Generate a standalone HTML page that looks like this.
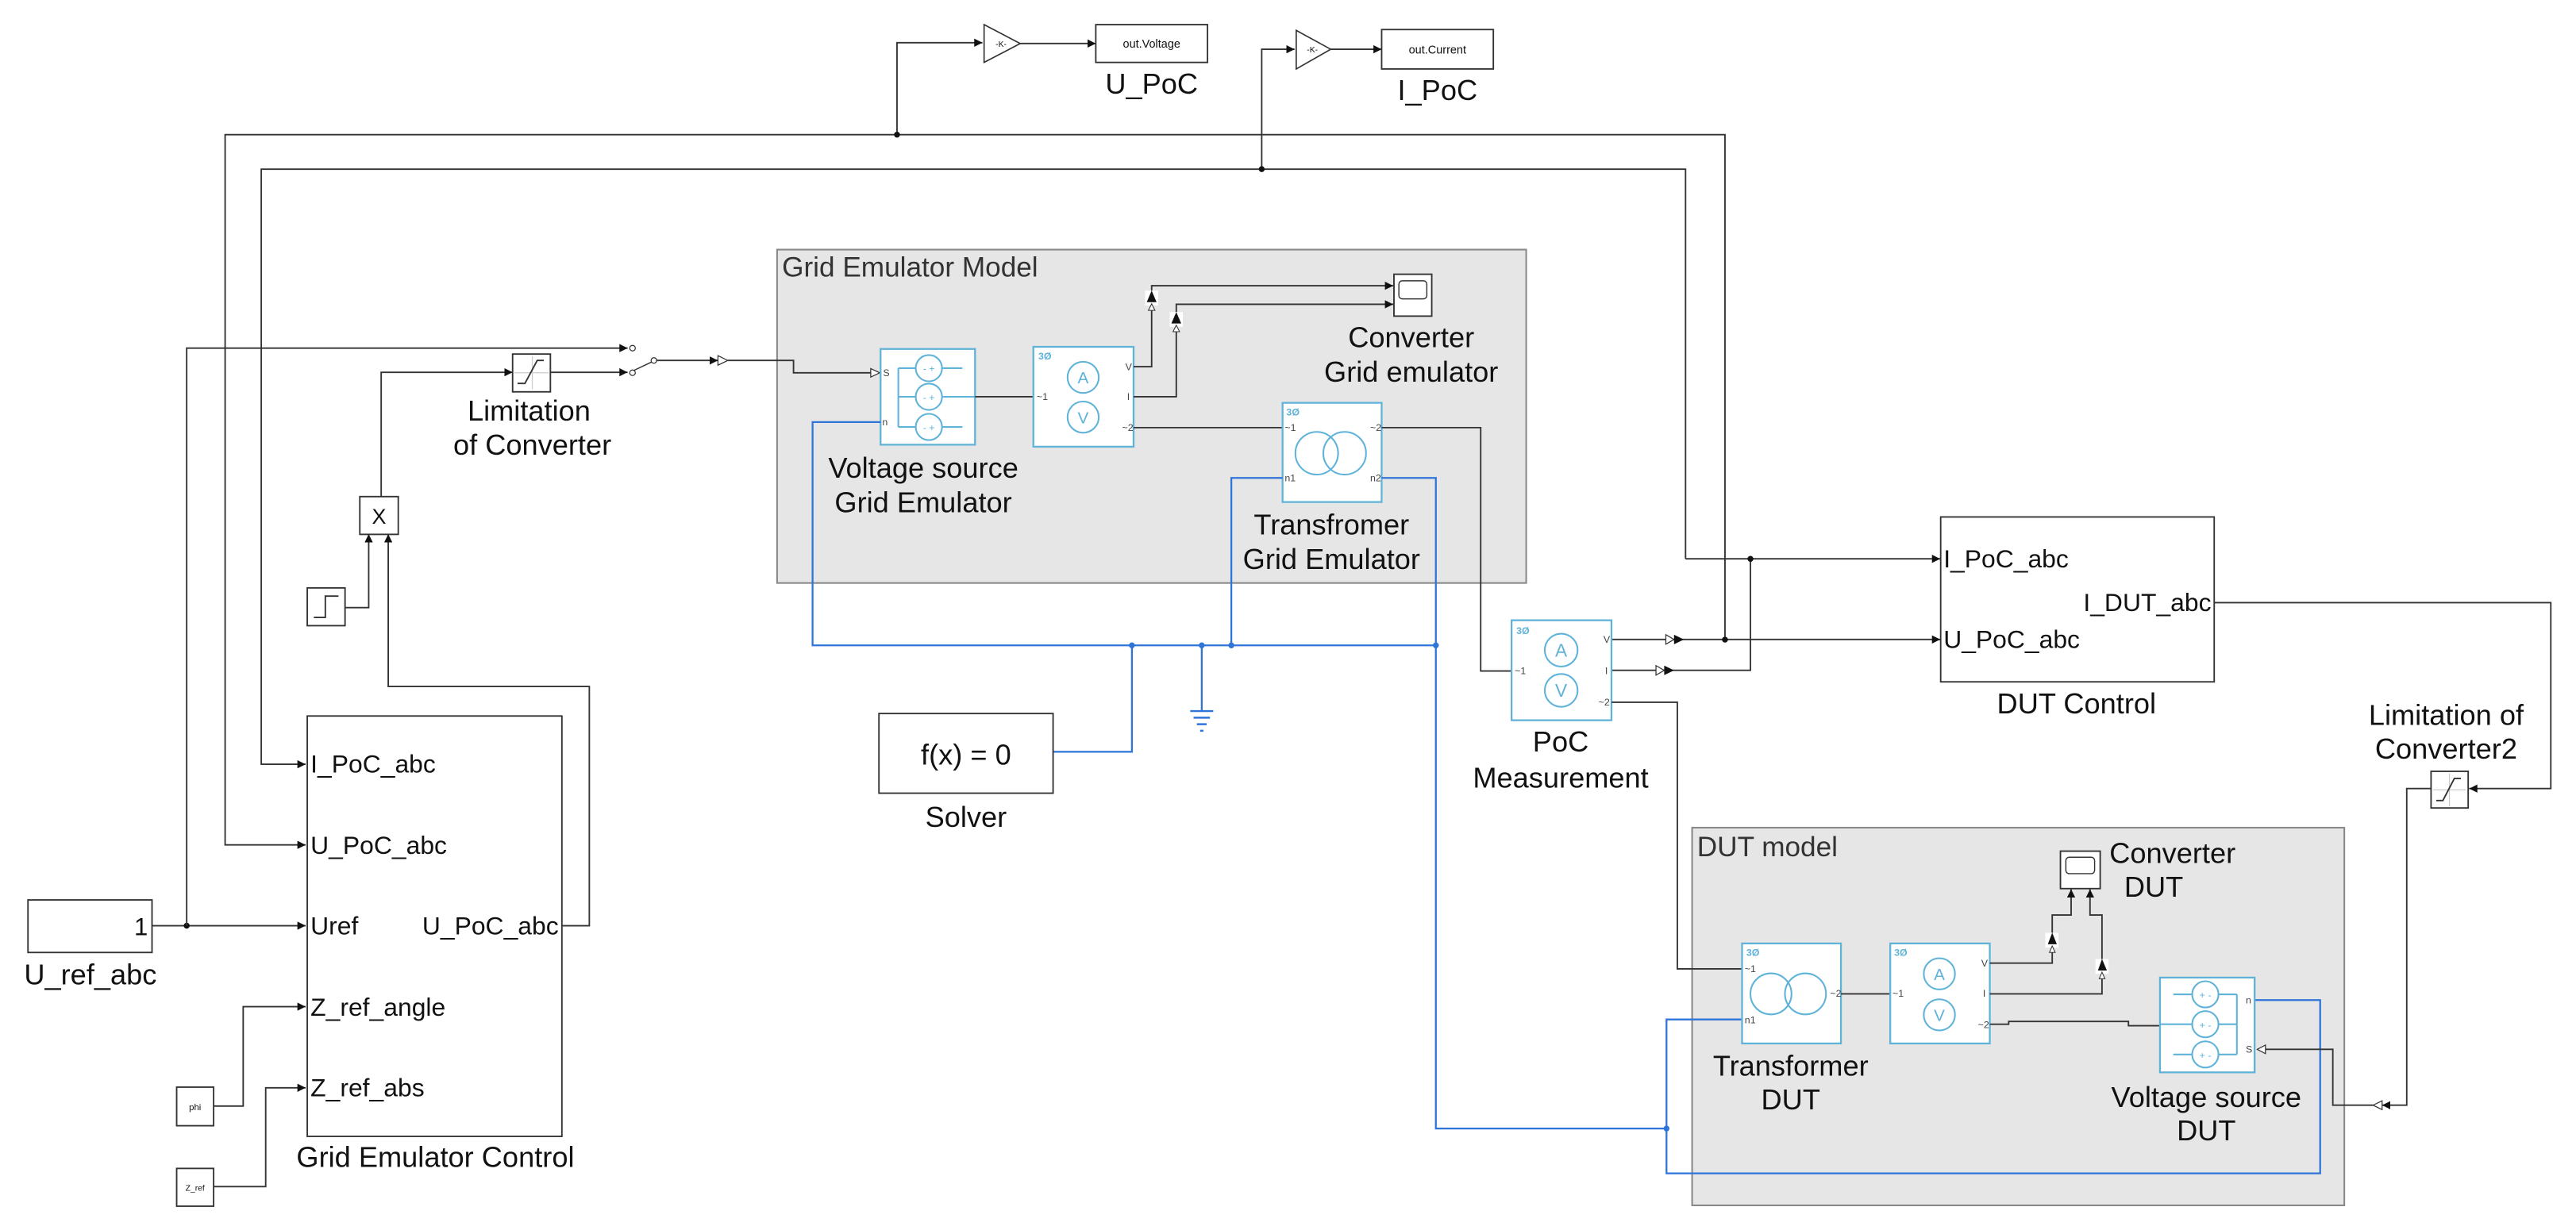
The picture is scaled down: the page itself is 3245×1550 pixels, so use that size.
<!DOCTYPE html>
<html><head><meta charset="utf-8"><style>
html,body{margin:0;padding:0;background:#fff;}
svg{display:block;}
text{font-family:"Liberation Sans",Arial,sans-serif;fill:#111;}
.l{fill:none;stroke:#333;stroke-width:0.9;}
.b{fill:none;stroke:#2f74d8;stroke-width:1.1;}
.blk{fill:#fff;stroke:#333;stroke-width:0.9;}
.sb{fill:#fff;stroke:#5fb3d9;stroke-width:1.1;}
.sc{fill:none;stroke:#5fb3d9;stroke-width:1;}
.lab{font-size:17.5px;text-anchor:middle;}
.pt{font-size:15.4px;}
.tiny{font-size:6px;fill:#444;}
.bl{font-size:6px;fill:#5fb3d9;font-weight:bold;}
</style></head><body>
<svg width="3245" height="1550" viewBox="0 0 1568 749" xmlns="http://www.w3.org/2000/svg">
<defs>
<marker id="a" viewBox="0 0 10 10" refX="10" refY="5" markerWidth="5" markerHeight="5" markerUnits="userSpaceOnUse" orient="auto"><path d="M0,0 L10,5 L0,10 z" fill="#111"/></marker>
</defs>
<rect x="0" y="0" width="1568" height="749" fill="#fff"/>

<rect x="473" y="152" width="456" height="203" fill="#e6e6e6" stroke="#888" stroke-width="1"/>
<text x="476" y="168.5" style="font-size:17px;fill:#333">Grid Emulator Model</text>
<rect x="1030" y="504" width="397" height="230" fill="#e6e6e6" stroke="#888" stroke-width="1"/>
<text x="1033" y="521.5" style="font-size:17px;fill:#333">DUT model</text>

<path class="l" d="M546,82 V26 H598" marker-end="url(#a)"/>
<polygon points="599,15 621,26.5 599,38" fill="#fff" stroke="#333" stroke-width="0.8"/>
<text x="606" y="28.5" style="font-size:5px">-K-</text>
<path class="l" d="M621,26.5 H667" marker-end="url(#a)"/>
<rect class="blk" x="667" y="15" width="68" height="23"/>
<text x="701" y="29" style="font-size:7px;text-anchor:middle">out.Voltage</text>
<text class="lab" x="701" y="57">U_PoC</text>

<path class="l" d="M768,103 V30 H788" marker-end="url(#a)"/>
<polygon points="789,18.5 810,30 789,42" fill="#fff" stroke="#333" stroke-width="0.8"/>
<text x="795.5" y="32" style="font-size:5px">-K-</text>
<path class="l" d="M810,30 H841" marker-end="url(#a)"/>
<rect class="blk" x="841" y="18" width="68" height="24"/>
<text x="875" y="32.5" style="font-size:7px;text-anchor:middle">out.Current</text>
<text class="lab" x="875" y="61">I_PoC</text>

<path class="l" d="M1050,389.5 V82 H137 V514.5 H186" marker-end="url(#a)"/>
<path class="l" d="M1026,340.3 V103 H159 V465.4 H186" marker-end="url(#a)"/>
<circle cx="546" cy="82" r="1.8" fill="#111"/>
<circle cx="768" cy="103" r="1.8" fill="#111"/>
<path class="l" d="M1026,340.3 H1181" marker-end="url(#a)"/>
<path class="l" d="M981,408.2 H1065.5 V340.3"/>
<circle cx="1065.5" cy="340.3" r="1.8" fill="#111"/>
<path class="l" d="M981,389.4 H1181" marker-end="url(#a)"/>
<circle cx="1050" cy="389.5" r="1.8" fill="#111"/>
<polygon points="1014,386.5 1019,389.4 1014,392.3" fill="#fff" stroke="#333" stroke-width="0.6"/>
<polygon points="1019,386.5 1025,389.4 1019,392.3" fill="#111"/>
<polygon points="1008,405.3 1013,408.2 1008,411.1" fill="#fff" stroke="#333" stroke-width="0.6"/>
<polygon points="1013,405.3 1019,408.2 1013,411.1" fill="#111"/>

<rect class="blk" x="17" y="548" width="75.5" height="32"/>
<text x="90" y="569.5" style="font-size:15px;text-anchor:end">1</text>
<text class="lab" x="55" y="599.5">U_ref_abc</text>
<path class="l" d="M92.5,563.7 H186" marker-end="url(#a)"/>
<circle cx="113.6" cy="563.7" r="1.8" fill="#111"/>
<path class="l" d="M113.6,563.7 V212 H382" marker-end="url(#a)"/>

<rect class="blk" x="187" y="436" width="155" height="256"/>
<text class="pt" x="189" y="470.5">I_PoC_abc</text>
<text class="pt" x="189" y="520">U_PoC_abc</text>
<text class="pt" x="189" y="569">Uref</text>
<text class="pt" x="340" y="569" style="text-anchor:end">U_PoC_abc</text>
<text class="pt" x="189" y="618.5">Z_ref_angle</text>
<text class="pt" x="189" y="667.5">Z_ref_abs</text>
<text class="lab" x="265" y="710.5">Grid Emulator Control</text>

<rect class="blk" x="107.5" y="662" width="22.5" height="23.5"/>
<text x="118.7" y="676" style="font-size:5.5px;text-anchor:middle">phi</text>
<rect class="blk" x="107.5" y="711.5" width="22.5" height="23"/>
<text x="118.7" y="725" style="font-size:5px;text-anchor:middle">Z_ref</text>
<path class="l" d="M130,673.5 H148 V613 H186" marker-end="url(#a)"/>
<path class="l" d="M130,722.6 H161.7 V662.4 H186" marker-end="url(#a)"/>

<path class="l" d="M342,563.7 H358.7 V418 H236.3 V325.3" marker-end="url(#a)"/>
<rect class="blk" x="187" y="358" width="23" height="23"/>
<polyline class="l" points="191,376 198,376 198,363 206,363"/>
<path class="l" d="M210,370 H224.4 V325.3" marker-end="url(#a)"/>
<rect class="blk" x="219" y="302.4" width="23.4" height="23"/>
<text x="230.7" y="319" style="font-size:13px;text-anchor:middle">X</text>
<path class="l" d="M232,302.4 V226.7 H312" marker-end="url(#a)"/>

<rect class="blk" x="312" y="215.6" width="23" height="23"/>
<line x1="313" y1="227" x2="334" y2="227" stroke="#ccc" stroke-width="0.6"/>
<line x1="324" y1="217" x2="324" y2="237" stroke="#ccc" stroke-width="0.6"/>
<polyline class="l" points="315,233.5 319.5,233.5 327,219.5 331,219.5"/>
<text class="lab" x="322" y="256">Limitation</text>
<text class="lab" x="324" y="277">of Converter</text>
<path class="l" d="M335,226.7 H382" marker-end="url(#a)"/>
<circle cx="385" cy="212" r="1.7" fill="#fff" stroke="#333" stroke-width="0.6"/>
<circle cx="385" cy="227" r="1.7" fill="#fff" stroke="#333" stroke-width="0.6"/>
<line x1="386" y1="225.5" x2="396.5" y2="220.5" stroke="#333" stroke-width="0.7"/>
<circle cx="398" cy="219.5" r="1.7" fill="#fff" stroke="#333" stroke-width="0.6"/>
<path class="l" d="M399.7,219.5 H437" marker-end="url(#a)"/>
<polygon points="437,216.6 443,219.5 437,222.4" fill="#fff" stroke="#333" stroke-width="0.6"/>
<path class="l" d="M443,219.5 H483 V227 H531"/>
<polygon points="530,224.4 535.5,227 530,229.6" fill="#fff" stroke="#333" stroke-width="0.6"/>

<rect class="sb" x="536" y="212.5" width="57.5" height="58.3"/>
<text class="tiny" x="537.5" y="229">S</text>
<text class="tiny" x="537" y="259">n</text>
<path class="sc" d="M546.8,224.2 V260 M546.8,224.2 H585.8 M546.8,241.6 H593.5 M546.8,260 H585.8"/>
<circle cx="565.4" cy="224.2" r="8" fill="#fff" stroke="#5fb3d9" stroke-width="1"/>
<circle cx="565.4" cy="241.6" r="8" fill="#fff" stroke="#5fb3d9" stroke-width="1"/>
<circle cx="565.4" cy="260" r="8" fill="#fff" stroke="#5fb3d9" stroke-width="1"/>
<text x="565.4" y="226.5" style="font-size:6px;text-anchor:middle;fill:#5fb3d9">- +</text>
<text x="565.4" y="244" style="font-size:6px;text-anchor:middle;fill:#5fb3d9">- +</text>
<text x="565.4" y="262.4" style="font-size:6px;text-anchor:middle;fill:#5fb3d9">- +</text>
<text class="lab" x="562" y="291">Voltage source</text>
<text class="lab" x="562" y="312">Grid Emulator</text>

<path class="l" d="M593.5,241.6 H629"/>
<rect class="sb" x="629" y="211.2" width="61" height="60.8"/>
<text class="bl" x="632" y="219">3Ø</text>
<circle cx="659.3" cy="229.8" r="9.5" fill="none" stroke="#5fb3d9" stroke-width="1"/>
<circle cx="659.3" cy="254" r="9.5" fill="none" stroke="#5fb3d9" stroke-width="1"/>
<text x="659.3" y="233.5" style="font-size:10px;text-anchor:middle;fill:#5fb3d9">A</text>
<text x="659.3" y="257.7" style="font-size:10px;text-anchor:middle;fill:#5fb3d9">V</text>
<text class="tiny" x="631" y="243.5">~1</text>
<text class="tiny" x="685" y="225.5">V</text>
<text class="tiny" x="686" y="243.5">I</text>
<text class="tiny" x="683" y="262.5">~2</text>
<path class="l" d="M690,223.3 H701 V174 H848" marker-end="url(#a)"/>
<path class="l" d="M690,241.6 H716 V185.3 H848" marker-end="url(#a)"/>
<rect x="697" y="177" width="8" height="9" fill="#fff"/>
<path d="M701,177 L698,184 L704,184 z" fill="#111"/>
<path d="M701,185 L699,189 L703,189 z" fill="#fff" stroke="#333" stroke-width="0.5"/>
<rect x="712" y="190" width="8" height="9" fill="#fff"/>
<path d="M716,190 L713,197 L719,197 z" fill="#111"/>
<path d="M716,198 L714,202 L718,202 z" fill="#fff" stroke="#333" stroke-width="0.5"/>
<rect class="blk" x="848.5" y="167" width="23" height="25.5"/>
<rect x="851.5" y="171" width="17" height="11" rx="2" fill="#fff" stroke="#333" stroke-width="0.7"/>
<text class="lab" x="859" y="211.5">Converter</text>
<text class="lab" x="859" y="232.5">Grid emulator</text>

<path class="l" d="M690,260.4 H780.7"/>
<rect class="sb" x="780.7" y="245.3" width="60.3" height="60.4"/>
<text class="bl" x="783" y="253">3Ø</text>
<circle cx="801.5" cy="276" r="13" fill="none" stroke="#5fb3d9" stroke-width="1"/>
<circle cx="818.5" cy="276" r="13" fill="none" stroke="#5fb3d9" stroke-width="1"/>
<text class="tiny" x="782" y="262.5">~1</text>
<text class="tiny" x="834" y="262.5">~2</text>
<text class="tiny" x="782" y="293">n1</text>
<text class="tiny" x="834" y="293">n2</text>
<text class="lab" x="810.5" y="325.5">Transfromer</text>
<text class="lab" x="810.5" y="346.5">Grid Emulator</text>
<path class="l" d="M841,260.4 H901.3 V408.6 H920"/>

<path class="b" d="M536,257 H494.6 V393 H874"/>
<path class="b" d="M780.7,291 H749.5 V393"/>
<path class="b" d="M841,291 H874 V687.2 H1014.4"/>
<path class="b" d="M731.5,393 V433"/>
<path class="b" d="M640.7,457.8 H689 V393"/>
<path class="b" d="M1060.4,620.8 H1014.4 V714.5 H1412.3 V609 H1372.4"/>
<circle cx="689" cy="393" r="1.8" fill="#2f74d8"/>
<circle cx="731.5" cy="393" r="1.8" fill="#2f74d8"/>
<circle cx="749.5" cy="393" r="1.8" fill="#2f74d8"/>
<circle cx="874" cy="393" r="1.8" fill="#2f74d8"/>
<circle cx="1014.4" cy="687.2" r="1.8" fill="#2f74d8"/>
<path d="M724.5,433 H738.5 M726.5,437 H736.5 M728.5,441 H734.5 M730.5,445 H732.5" stroke="#2f74d8" stroke-width="1.2"/>

<rect class="blk" x="535" y="434.5" width="106" height="48.5"/>
<text x="588" y="465.5" style="font-size:17.5px;text-anchor:middle">f(x) = 0</text>
<text class="lab" x="588" y="503.5">Solver</text>

<rect class="sb" x="920.1" y="377.7" width="60.8" height="60.9"/>
<text class="bl" x="923" y="386">3Ø</text>
<circle cx="950.3" cy="395.9" r="10" fill="none" stroke="#5fb3d9" stroke-width="1"/>
<circle cx="950.3" cy="420.4" r="10" fill="none" stroke="#5fb3d9" stroke-width="1"/>
<text x="950.3" y="399.8" style="font-size:11px;text-anchor:middle;fill:#5fb3d9">A</text>
<text x="950.3" y="424.3" style="font-size:11px;text-anchor:middle;fill:#5fb3d9">V</text>
<text class="tiny" x="922" y="410.5">~1</text>
<text class="tiny" x="976" y="391.5">V</text>
<text class="tiny" x="977" y="410.5">I</text>
<text class="tiny" x="973" y="429.5">~2</text>
<text class="lab" x="950" y="457.5">PoC</text>
<text class="lab" x="950" y="479.5">Measurement</text>
<path class="l" d="M981,427.6 H1021 V590 H1060.4"/>

<rect class="blk" x="1181.3" y="314.8" width="166.5" height="100.4"/>
<text class="pt" x="1183" y="345.5">I_PoC_abc</text>
<text class="pt" x="1183" y="394.5">U_PoC_abc</text>
<text class="pt" x="1346" y="372" style="text-anchor:end">I_DUT_abc</text>
<text class="lab" x="1264" y="434.5">DUT Control</text>
<path class="l" d="M1348,367 H1552.7 V480.2 H1503" marker-end="url(#a)"/>
<rect class="blk" x="1479.8" y="469.7" width="22.6" height="22.3"/>
<line x1="1481" y1="481" x2="1501" y2="481" stroke="#ccc" stroke-width="0.6"/>
<line x1="1491" y1="471" x2="1491" y2="491" stroke="#ccc" stroke-width="0.6"/>
<polyline class="l" points="1483,487.5 1487,487.5 1494,474 1498,474"/>
<text class="lab" x="1489" y="441.5">Limitation of</text>
<text class="lab" x="1489" y="462">Converter2</text>
<path class="l" d="M1479.8,480.2 H1465 V673 H1450" marker-end="url(#a)"/>
<polygon points="1450,670.3 1444.5,673 1450,675.7" fill="#fff" stroke="#333" stroke-width="0.6"/>
<path class="l" d="M1444.5,673 H1420 V639 H1379"/>
<polygon points="1379,636.4 1374,639 1379,641.6" fill="#fff" stroke="#333" stroke-width="0.6"/>

<rect class="sb" x="1060.4" y="574.5" width="60.2" height="60.9"/>
<text class="bl" x="1063" y="582">3Ø</text>
<circle cx="1078" cy="605.2" r="12.5" fill="none" stroke="#5fb3d9" stroke-width="1"/>
<circle cx="1099" cy="605.2" r="12.5" fill="none" stroke="#5fb3d9" stroke-width="1"/>
<text class="tiny" x="1062" y="592">~1</text>
<text class="tiny" x="1114" y="607">~2</text>
<text class="tiny" x="1062" y="623">n1</text>
<text class="lab" x="1090" y="655">Transformer</text>
<text class="lab" x="1090" y="675.5">DUT</text>
<path class="l" d="M1120.6,605.2 H1150.6"/>
<rect class="sb" x="1150.6" y="574.5" width="60.6" height="60.9"/>
<text class="bl" x="1153" y="582">3Ø</text>
<circle cx="1180.5" cy="593" r="9.5" fill="none" stroke="#5fb3d9" stroke-width="1"/>
<circle cx="1180.5" cy="618" r="9.5" fill="none" stroke="#5fb3d9" stroke-width="1"/>
<text x="1180.5" y="596.7" style="font-size:10px;text-anchor:middle;fill:#5fb3d9">A</text>
<text x="1180.5" y="621.7" style="font-size:10px;text-anchor:middle;fill:#5fb3d9">V</text>
<text class="tiny" x="1152" y="607">~1</text>
<text class="tiny" x="1206" y="588.5">V</text>
<text class="tiny" x="1207" y="607">I</text>
<text class="tiny" x="1204" y="626">~2</text>
<path class="l" d="M1211.2,586.5 H1249.2 V557.2 H1260.7 V541.5" marker-end="url(#a)"/>
<path class="l" d="M1211.2,605.2 H1279.5 V557.2 H1272.2 V541.5" marker-end="url(#a)"/>
<rect x="1245" y="568" width="8" height="9" fill="#fff"/>
<path d="M1249.2,568 L1246.5,575 L1252,575 z" fill="#111"/>
<path d="M1249.2,576 L1247.5,580 L1251,580 z" fill="#fff" stroke="#333" stroke-width="0.5"/>
<rect x="1275.5" y="584" width="8" height="9" fill="#fff"/>
<path d="M1279.5,584 L1277,591 L1282.5,591 z" fill="#111"/>
<path d="M1279.5,592 L1277.8,596 L1281.3,596 z" fill="#fff" stroke="#333" stroke-width="0.5"/>
<rect class="blk" x="1254.2" y="518.3" width="24.2" height="22.8"/>
<rect x="1257.5" y="522" width="17.5" height="10" rx="2" fill="#fff" stroke="#333" stroke-width="0.7"/>
<text x="1284" y="525.5" style="font-size:17.5px">Converter</text>
<text x="1293" y="546" style="font-size:17.5px">DUT</text>
<path class="l" d="M1211.2,623.7 H1222.7 V622 H1295.6 V624.6 H1314.8"/>
<rect class="sb" x="1314.8" y="595.3" width="57.6" height="57.7"/>
<path class="sc" d="M1361.6,605.5 V642.1 M1322.9,605.5 H1361.6 M1314.8,623.7 H1361.6 M1322.9,642.1 H1361.6"/>
<circle cx="1342.4" cy="605.5" r="8" fill="#fff" stroke="#5fb3d9" stroke-width="1"/>
<circle cx="1342.4" cy="623.7" r="8" fill="#fff" stroke="#5fb3d9" stroke-width="1"/>
<circle cx="1342.4" cy="642.1" r="8" fill="#fff" stroke="#5fb3d9" stroke-width="1"/>
<text x="1342.4" y="608" style="font-size:6px;text-anchor:middle;fill:#5fb3d9">+ -</text>
<text x="1342.4" y="626.2" style="font-size:6px;text-anchor:middle;fill:#5fb3d9">+ -</text>
<text x="1342.4" y="644.6" style="font-size:6px;text-anchor:middle;fill:#5fb3d9">+ -</text>
<text class="tiny" x="1367" y="611">n</text>
<text class="tiny" x="1367" y="641">S</text>
<text class="lab" x="1343" y="674">Voltage source</text>
<text class="lab" x="1343" y="694.5">DUT</text>
</svg>
</body></html>
